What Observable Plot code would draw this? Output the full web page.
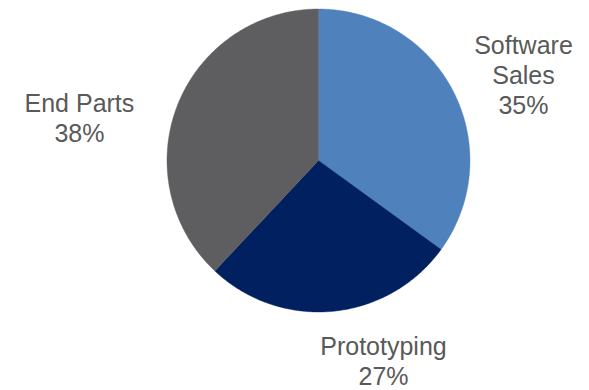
<!DOCTYPE html>
<html>
<head>
<meta charset="utf-8">
<script src="https://cdn.jsdelivr.net/npm/d3@7"></script>
<script src="https://cdn.jsdelivr.net/npm/@observablehq/plot@0.6"></script>
<style>
  html, body { margin: 0; padding: 0; background: #ffffff; }
  #chart { width: 589px; height: 390px; }
</style>
</head>
<body>
<div id="chart"></div>
<script>
// ---- data ----
const categories = ["Software Sales", "Prototyping", "End Parts"];
const labelLines = [["Software", "Sales"], ["Prototyping"], ["End Parts"]];
const shares = [35, 27, 38];
const colors = ["#4F81BD", "#002060", "#5E5E60"];

// ---- layout (label anchors in pie-radius units, relative to centre) ----
const labelX = [1.353, 0.429, -1.578];
const labelY = [0.568, -1.320, 0.284];

const W = 589, H = 390, cx = 318, cy = 160, R = 151.5;

// slice outlines built from the shares (angles clockwise from 12 o'clock)
const total = d3.sum(shares);
const slicePoints = [];
let start = 0;
categories.forEach((c, i) => {
  const sweep = shares[i] / total * 2 * Math.PI;
  const end = start + sweep;
  slicePoints.push({cat: c, x: 0, y: 0});
  const n = Math.max(2, Math.ceil(sweep / (Math.PI / 360)));
  for (let k = 0; k <= n; k++) {
    const a = start + sweep * k / n;
    slicePoints.push({cat: c, x: Math.sin(a), y: Math.cos(a)});
  }
  slicePoints.push({cat: c, x: 0, y: 0});
  start = end;
});

const labels = categories.map((c, i) => ({
  cat: c,
  x: labelX[i],
  y: labelY[i],
  text: [...labelLines[i], shares[i] + "%"].join("\n")
}));

const chart = Plot.plot({
  width: W,
  height: H,
  margin: 0,
  style: {background: "#ffffff"},
  x: {domain: [-1, 1], range: [cx - R, cx + R], axis: null},
  y: {domain: [-1, 1], range: [cy + R, cy - R], axis: null},
  color: {type: "ordinal", domain: categories, range: colors},
  marks: [
    Plot.line(slicePoints, {
      x: "x", y: "y", z: "cat",
      fill: "cat", stroke: "cat", strokeWidth: 0.4,
      curve: "linear"
    }),
    Plot.text(labels, {
      x: "x", y: "y", text: "text",
      fontSize: 25,
      fontFamily: "Liberation Sans, Arial, sans-serif",
      fill: "#595959",
      lineHeight: 1.2,
      lineAnchor: "middle",
      textAnchor: "middle"
    })
  ]
});
document.getElementById("chart").appendChild(chart);
</script>
</body>
</html>
